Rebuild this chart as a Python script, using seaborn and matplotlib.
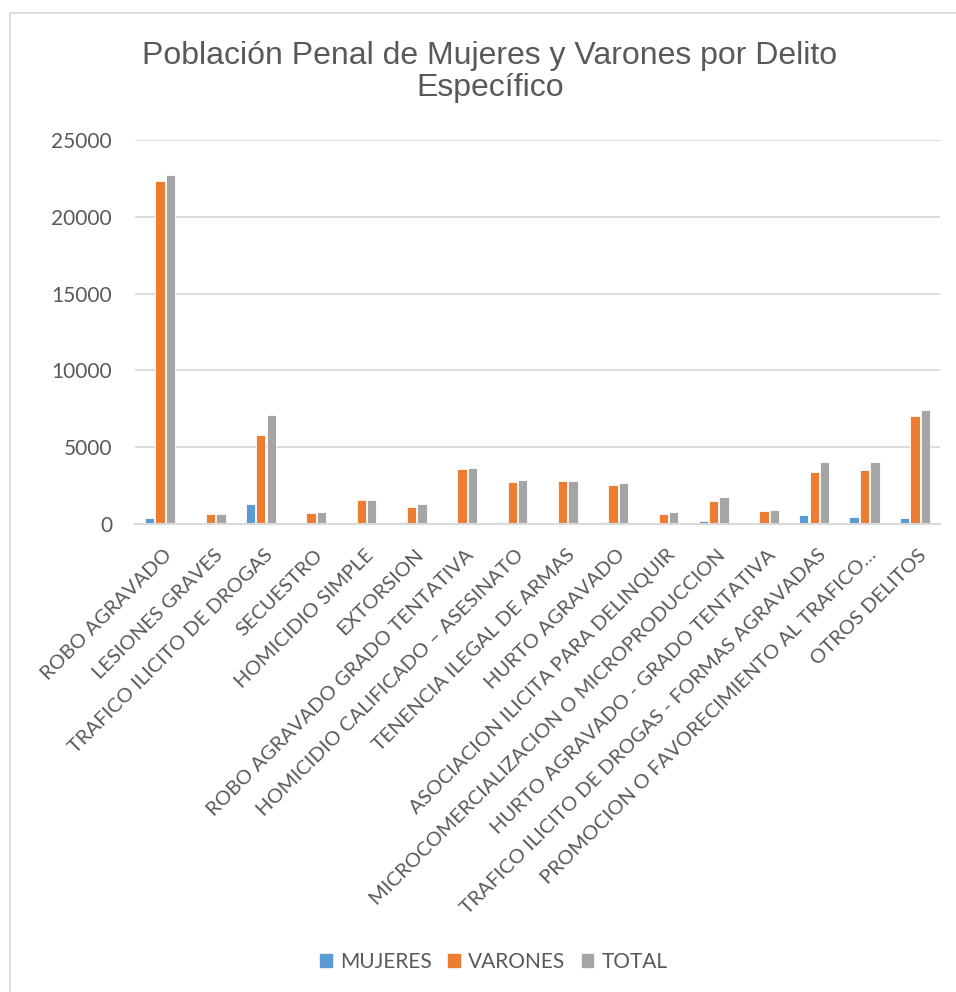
import matplotlib
matplotlib.use("Agg")
import matplotlib.pyplot as plt
import matplotlib.patches as mpatches
import matplotlib.transforms as mtransforms
import pandas as pd
import seaborn as sns

DELITOS = ["ROBO AGRAVADO", "LESIONES GRAVES", "TRAFICO ILICITO DE DROGAS", "SECUESTRO",
           "HOMICIDIO SIMPLE", "EXTORSION", "ROBO AGRAVADO GRADO TENTATIVA",
           "HOMICIDIO CALIFICADO – ASESINATO", "TENENCIA ILEGAL DE ARMAS", "HURTO AGRAVADO",
           "ASOCIACION ILICITA PARA DELINQUIR", "MICROCOMERCIALIZACION O MICROPRODUCCION",
           "HURTO AGRAVADO - GRADO TENTATIVA", "TRAFICO ILICITO DE DROGAS - FORMAS AGRAVADAS",
           "PROMOCION O FAVORECIMIENTO AL TRAFICO…", "OTROS DELITOS"]
MUJERES = [390, 10, 1300, 30, 10, 150, 30, 120, 30, 130, 60, 220, 40, 610, 480, 390]
VARONES = [22300, 670, 5810, 700, 1550, 1110, 3570, 2740, 2800, 2530, 670, 1520, 870, 3400, 3530, 7050]
TOTAL = [22700, 680, 7110, 780, 1560, 1290, 3640, 2870, 2830, 2680, 780, 1760, 935, 4050, 4030, 7450]
SERIES = ["MUJERES", "VARONES", "TOTAL"]
COLORES = ["#5B9BD5", "#ED7D31", "#A5A5A5"]

df = pd.concat([
    pd.DataFrame({"delito": DELITOS, "valor": vals, "serie": s})
    for s, vals in zip(SERIES, [MUJERES, VARONES, TOTAL])
])

sns.set_theme(style="white")
plt.rcParams["font.family"] = ["Lato", "DejaVu Sans"]
gris = "#595959"

fig = plt.figure(figsize=(9.56, 9.92), dpi=100)
ax = fig.add_axes([135 / 956, 1 - 524 / 992, (940 - 135) / 956, (524 - 140) / 992])

sns.barplot(data=df, x="delito", y="valor", hue="serie", palette=COLORES, saturation=1,
            width=0.62, gap=0.1, edgecolor="white", linewidth=0.6, ax=ax, legend=False)

ax.set_ylim(0, 25000)
ax.set_yticks(range(0, 25001, 5000))
ax.yaxis.grid(True, color="#d9d9d9", linewidth=1.3)
ax.set_axisbelow(True)
for s in ["left", "right", "top"]:
    ax.spines[s].set_visible(False)
ax.spines["bottom"].set_color("#d9d9d9")
ax.spines["bottom"].set_linewidth(1.5)
ax.set_xlabel("")
ax.set_ylabel("")
ax.tick_params(axis="both", length=0, colors=gris)
ax.tick_params(axis="y", pad=16.5, labelsize=15)
ax.tick_params(axis="x", pad=16, labelsize=14.5)
shift = mtransforms.ScaledTranslation(3 / 100, 0, fig.dpi_scale_trans)
for lbl in ax.get_xticklabels():
    lbl.set_rotation(45)
    lbl.set_ha("right")
    lbl.set_va("top")
    lbl.set_rotation_mode("anchor")
    lbl.set_transform(lbl.get_transform() + shift)

fig.text(490 / 956, 1 - 72 / 992, "Población Penal de Mujeres y Varones por Delito\nEspecífico",
         ha="center", va="center", fontsize=23, color=gris, family=["Liberation Sans", "DejaVu Sans"],
         linespacing=1.1)

handles = [mpatches.Patch(color=c, label=s) for s, c in zip(SERIES, COLORES)]
fig.legend(handles=handles, loc="center", bbox_to_anchor=(494 / 956, 1 - 962 / 992), ncol=3,
           frameon=False, fontsize=15, handlelength=0.55, handleheight=0.55, handletextpad=0.4,
           columnspacing=0.8, labelcolor=gris)

# chart area border (cropped at right and bottom)
fig.patches.append(mpatches.Rectangle((10 / 956, -0.05), 1.0, 1 - 13 / 992 + 0.05,
                                      transform=fig.transFigure, fill=False,
                                      edgecolor="#d9d9d9", linewidth=1.3))

fig.savefig("out.png", dpi=100)
